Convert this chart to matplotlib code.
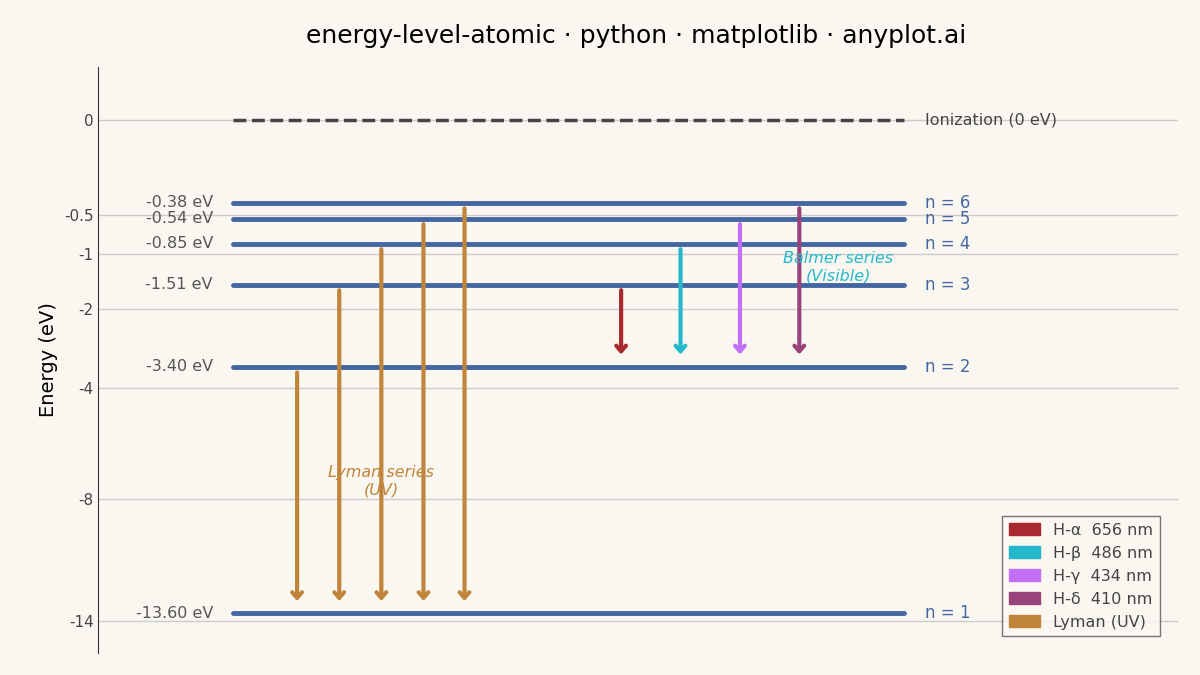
import numpy as np
import matplotlib
matplotlib.use("Agg")
import matplotlib.pyplot as plt
from matplotlib.patches import Patch

levels_n = [1, 2, 3, 4, 5, 6]
levels_E = [-13.60, -3.40, -1.51, -0.85, -0.54, -0.38]
lyman_upper = [2, 3, 4, 5, 6]
lyman_x = [1.84, 2.23, 2.62, 3.01, 3.39]
balmer_upper = [3, 4, 5, 6]
balmer_x = [4.84, 5.39, 5.94, 6.49]
balmer_names = ["H-α  656 nm", "H-β  486 nm", "H-γ  434 nm", "H-δ  410 nm"]
balmer_colors = ["#A8292F", "#25B8CC", "#C26EF5", "#98447A"]
yticks = [0, -0.5, -1, -2, -4, -8, -14]
ytick_labels = ["0", "-0.5", "-1", "-2", "-4", "-8", "-14"]

BG = "#FAF7F1"; LEVEL = "#4467A3"; LYMAN = "#C0843A"
E = dict(zip(levels_n, levels_E))

fig = plt.figure(figsize=(12, 6.75), dpi=100, facecolor=BG)
ax = fig.add_axes([0.082, 0.033, 0.9, 0.868], facecolor=BG)
fwd = lambda x: np.sign(x) * np.sqrt(np.abs(x))
inv = lambda y: np.sign(y) * y**2
ax.set_yscale("function", functions=(fwd, inv))
ax.set_ylim(-15.85, 0.16)
ax.set_xlim(0, 10)
ax.set_yticks(yticks)
ax.set_yticklabels(ytick_labels, color="#444444", fontsize=11)
ax.set_xticks([])
ax.yaxis.grid(True, color="#cccccc", lw=1)
ax.set_axisbelow(True)
for s in ["top", "right", "bottom"]:
    ax.spines[s].set_visible(False)
ax.spines["left"].set_color("#333333")
ax.set_ylabel("Energy (eV)", fontsize=14)
ax.tick_params(axis="y", length=0)

x0, x1 = 1.25, 7.46
ax.plot([x0, x1], [0, 0], ls="--", color="#444444", lw=2.5)
ax.text(7.65, 0, "Ionization (0 eV)", va="center", fontsize=11.5, color="#444444")
for n, e in zip(levels_n, levels_E):
    ax.plot([x0, x1], [e, e], color=LEVEL, lw=3.5, solid_capstyle="round")
    ax.text(1.06, e, f"{e:.2f} eV", ha="right", va="center", fontsize=11.5, color="#555555")
    ax.text(7.65, e, f"n = {n}", va="center", fontsize=12, color=LEVEL)

def arrow(x, up, lo, c):
    ax.annotate("", xy=(x, lo), xytext=(x, up),
                arrowprops=dict(arrowstyle="->,head_width=0.35,head_length=0.4",
                                color=c, lw=3, shrinkA=4, shrinkB=9))

for x, u in zip(lyman_x, lyman_upper):
    arrow(x, E[u], E[1], LYMAN)
for x, u, c in zip(balmer_x, balmer_upper, balmer_colors):
    arrow(x, E[u], E[2], c)

ax.text(2.62, -7.3, "Lyman series\n(UV)", ha="center", va="center", fontsize=11.5,
        style="italic", color=LYMAN)
ax.text(6.85, -1.2, "Balmer series\n(Visible)", ha="center", va="center", fontsize=11.5,
        style="italic", color="#25B8CC")

handles = [Patch(color=c, label=l) for c, l in zip(balmer_colors, balmer_names)]
handles.append(Patch(color=LYMAN, label="Lyman (UV)"))
leg = ax.legend(handles=handles, loc="lower right", fontsize=11.5, facecolor=BG,
                edgecolor="#555555", fancybox=False, bbox_to_anchor=(0.99, 0.015))
for t in leg.get_texts():
    t.set_color("#444444")

fig.suptitle("energy-level-atomic · python · matplotlib · anyplot.ai", fontsize=18,
             y=0.965, x=0.53)
fig.savefig("out.png", dpi=100, facecolor=BG)
